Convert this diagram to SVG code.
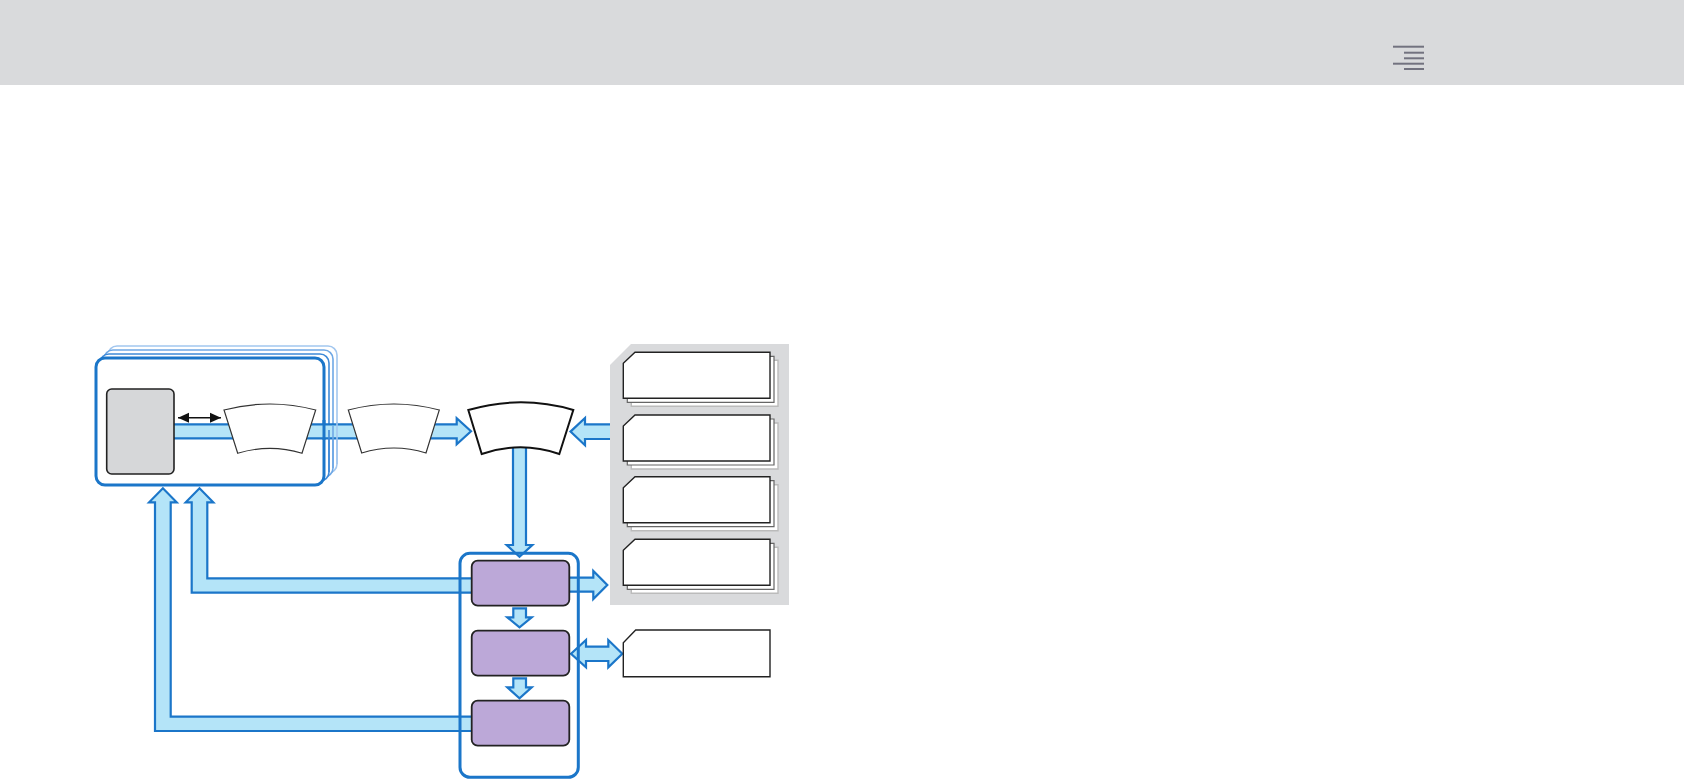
<svg xmlns="http://www.w3.org/2000/svg" width="1684" height="779" viewBox="0 0 1684 779">
<defs>
<style>
.arw{fill:#b4e4f8;stroke:#1b76c9;stroke-width:2.2;stroke-linejoin:miter}
.stk{fill:#fff;stroke-width:1.6}
.arc{fill:#fff;stroke:#333;stroke-width:1.2}
.pur{fill:#bca8d8;stroke:#222;stroke-width:1.8}
.card{fill:#fff;stroke:#222;stroke-width:1.4}
.card1{fill:#fff;stroke:#666;stroke-width:1.2}
.card2{fill:#fff;stroke:#bbb;stroke-width:1.4}
.ham{stroke:#72727f;stroke-width:2}
</style>
<marker id="ah" viewBox="0 0 10 10" refX="10" refY="5" markerWidth="11" markerHeight="11" markerUnits="userSpaceOnUse" orient="auto-start-reverse">
<path d="M0,0.5 L10,5 L0,9.5 Z" fill="#111"/>
</marker>
</defs>
<g id="header">
<rect x="0" y="0" width="1684" height="85" fill="#d9dadc"/>
<line class="ham" x1="1393" y1="46.7" x2="1424" y2="46.7"/>
<line class="ham" x1="1404" y1="52.7" x2="1424" y2="52.7"/>
<line class="ham" x1="1404" y1="58.3" x2="1424" y2="58.3"/>
<line class="ham" x1="1393" y1="63.7" x2="1424" y2="63.7"/>
<line class="ham" x1="1404" y1="69" x2="1424" y2="69"/>
</g>
<g id="stack">
<rect class="stk" x="108" y="346" width="229" height="127" rx="9" stroke="#a3c7ef"/>
<rect class="stk" x="104" y="350" width="229" height="127" rx="9" stroke="#6fa8e5"/>
<rect class="stk" x="100" y="354" width="229" height="127" rx="9" stroke="#3f8ad8"/>
<rect x="96" y="358" width="228" height="127" rx="9" fill="#fff" stroke="#1b76c9" stroke-width="3"/>
</g>
<g id="connectors">
<polygon class="arw" points="168,424.3 456.7,424.3 456.7,418.3 471,431.3 456.7,444.3 456.7,438.3 168,438.3"/>
<polygon class="arw" points="613,424.3 585,424.3 585,418 570.5,431.6 585,445.2 585,439 613,439"/>
<polygon class="arw" points="513,440 526,440 526,545 532.3,545 519.5,556.7 506.7,545 513,545"/>
<polygon class="arw" points="513.3,608.3 526,608.3 526,617.3 531.7,617.3 519.5,627.3 507.3,617.3 513.3,617.3"/>
<polygon class="arw" points="513.3,678.3 526,678.3 526,687.3 531.7,687.3 519.5,698.3 507.3,687.3 513.3,687.3"/>
<polygon class="arw" points="565,577.7 593.3,577.7 593.3,571 607.3,585 593.3,599 593.3,591.7 565,591.7"/>
<polygon class="arw" points="571,653.7 586,640 586,646.7 608.3,646.7 608.3,640 622.3,653.7 608.3,667.3 608.3,661 586,661 586,667.3"/>
<polygon class="arw" points="476,578.3 207.3,578.3 207.3,502.3 213.3,502.3 199.5,488.3 185.7,502.3 191.7,502.3 191.7,592.7 476,592.7"/>
<polygon class="arw" points="476,716.7 170.7,716.7 170.7,502.3 176.7,502.3 162.9,488.3 149.1,502.3 155,502.3 155,731 476,731"/>
<line x1="178" y1="417.7" x2="221" y2="417.7" stroke="#111" stroke-width="1.6" marker-start="url(#ah)" marker-end="url(#ah)"/>
</g>
<g id="stack-edges" fill="none">
<path d="M329,430 V472" stroke="#3f8ad8" stroke-width="1.6"/>
<path d="M333,426 V468" stroke="#6fa8e5" stroke-width="1.6"/>
<path d="M337,422 V464" stroke="#a3c7ef" stroke-width="1.6"/>
<path d="M324,420 V440" stroke="#1b76c9" stroke-width="3"/>
</g>
<g id="gray-box">
<rect x="106.7" y="389" width="67.3" height="85" rx="5" fill="#d6d7d9" stroke="#222" stroke-width="1.6"/>
</g>
<g id="arc1">
<path class="arc" d="M224,410 Q270,398 315.7,410 L302,453.3 Q270,443.3 237.7,453.3 Z"/>
</g>
<g id="arc2">
<path class="arc" d="M348.3,410 Q394,398 439.3,410 L426,453 Q394,443 361.7,453 Z"/>
</g>
<g id="arc-center">
<path d="M468.3,410 Q521,394.6 573.3,410 L559.3,454 Q520.5,440.6 481.7,454 Z" fill="#fff" stroke="#111" stroke-width="2"/>
</g>
<g id="panel">
<polygon points="631,344 789,344 789,605 610,605 610,365" fill="#d9dadc"/>
</g>
<g id="card1">
<polygon class="card2" points="638.3,360.3 778,360.3 778,406.3 631.3,406.3 631.3,371.3"/>
<polygon class="card1" points="634.3,356.3 774,356.3 774,402.3 627.3,402.3 627.3,367.3"/>
<polygon class="card" points="635,352.3 770,352.3 770,398.3 623.3,398.3 623.3,363.3"/>
</g>
<g id="card2">
<polygon class="card2" points="638.3,423 778,423 778,469 631.3,469 631.3,434"/>
<polygon class="card1" points="634.3,419 774,419 774,465 627.3,465 627.3,430"/>
<polygon class="card" points="635,415 770,415 770,461 623.3,461 623.3,426"/>
</g>
<g id="card3">
<polygon class="card2" points="638.3,484.7 778,484.7 778,530.7 631.3,530.7 631.3,495.7"/>
<polygon class="card1" points="634.3,480.7 774,480.7 774,526.7 627.3,526.7 627.3,491.7"/>
<polygon class="card" points="635,476.7 770,476.7 770,522.7 623.3,522.7 623.3,487.7"/>
</g>
<g id="card4">
<polygon class="card2" points="638.3,547.3 778,547.3 778,593.3 631.3,593.3 631.3,558.3"/>
<polygon class="card1" points="634.3,543.3 774,543.3 774,589.3 627.3,589.3 627.3,554.3"/>
<polygon class="card" points="635,539.3 770,539.3 770,585.3 623.3,585.3 623.3,550.3"/>
</g>
<g id="card5">
<polygon class="card" points="635.7,630 770,630 770,676.7 623.3,676.7 623.3,642.7"/>
</g>
<g id="container">
<rect x="460" y="553.3" width="118.3" height="224" rx="10" fill="none" stroke="#1b76c9" stroke-width="3"/>
</g>
<g id="proc1">
<rect class="pur" x="471.7" y="560.7" width="97.6" height="45" rx="6"/>
</g>
<g id="proc2">
<rect class="pur" x="471.7" y="630.7" width="97.6" height="45" rx="6"/>
</g>
<g id="proc3">
<rect class="pur" x="471.7" y="700.7" width="97.6" height="45" rx="6"/>
</g>
</svg>
